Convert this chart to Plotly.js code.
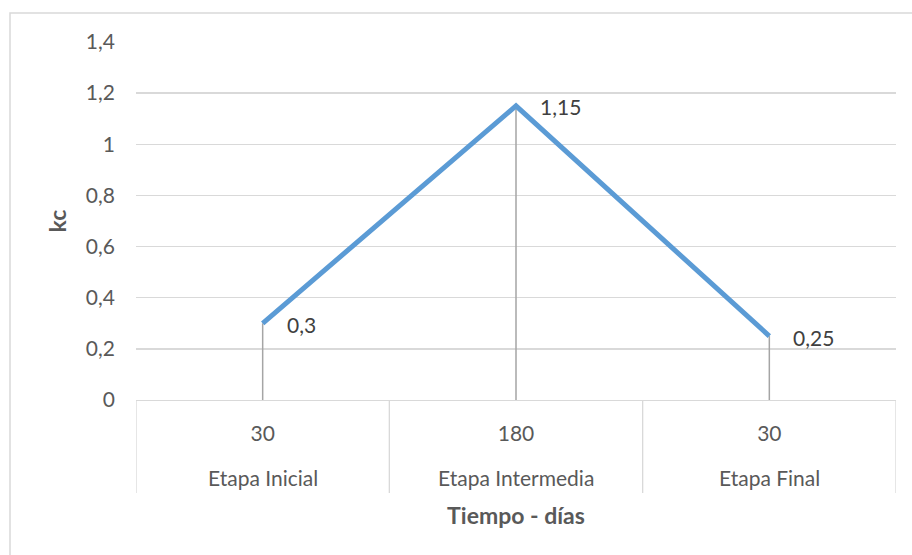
<!DOCTYPE html>
<html>
<head>
<meta charset="utf-8">
<script src="https://cdn.plot.ly/plotly-3.0.1.min.js"></script>
<style>html,body{margin:0;padding:0;background:#fff;}#chart{width:912px;height:555px;}</style>
</head>
<body>
<div id="chart"></div>
<script>
// Data
const stages = ["Etapa Inicial", "Etapa Intermedia", "Etapa Final"];
const days = ["30", "180", "30"];
const kc = [0.3, 1.15, 0.25];
const yTicks = [0, 0.2, 0.4, 0.6, 0.8, 1, 1.2, 1.4];
const yTickText = ["0", "0,2", "0,4", "0,6", "0,8", "1", "1,2", "1,4"];

const fmt = v => String(v).replace('.', ',');
const xIdx = stages.map((_, i) => i);
const FONT = 'Lato, "Open Sans", sans-serif';
const TXT = '#595959';

// Drop lines from each point to zero
const dropX = [], dropY = [];
kc.forEach((v, i) => { dropX.push(xIdx[i], xIdx[i], null); dropY.push(0, v, null); });

const traces = [
  {type: 'scatter', mode: 'lines', x: dropX, y: dropY,
   line: {color: '#a5a5a5', width: 1.5}, hoverinfo: 'skip', showlegend: false},
  {type: 'scatter', mode: 'lines', x: xIdx, y: kc,
   line: {color: '#5b9bd5', width: 5}, showlegend: false}
];

const pl = 136, pr = 896, pt = 42, pb = 400, W = 912, H = 555;
const pw = pr - pl, ph = pb - pt;

const annotations = [];
// data labels
kc.forEach((v, i) => annotations.push({
  x: xIdx[i], y: v, xref: 'x', yref: 'y', text: fmt(v), showarrow: false,
  xanchor: 'left', yanchor: 'middle', xshift: 22, yshift: -1,
  font: {family: FONT, size: 21, color: '#404040'}
}));
// second-level category labels
stages.forEach((s, i) => annotations.push({
  x: xIdx[i], y: 0, xref: 'x', yref: 'paper', text: s, showarrow: false,
  xanchor: 'center', yanchor: 'middle', yshift: -77,
  font: {family: FONT, size: 21, color: TXT}
}));

const shapes = [
  {type: 'rect', xref: 'paper', yref: 'paper',
   x0: (10 - pl) / pw, x1: (930 - pl) / pw, y0: (pb - 570) / ph, y1: (pb - 13) / ph,
   line: {color: '#d9d9d9', width: 1.5}, fillcolor: 'rgba(0,0,0,0)', layer: 'below'}
];
// category dividers below the axis
for (let k = 0; k <= stages.length; k++) {
  shapes.push({type: 'line', xref: 'x', yref: 'paper', x0: k - 0.5, x1: k - 0.5,
    y0: 0, y1: -93 / ph, line: {color: '#d9d9d9', width: 1.3}});
}

const layout = {
  width: W, height: H,
  margin: {l: pl, r: W - pr, t: pt, b: H - pb},
  paper_bgcolor: '#ffffff', plot_bgcolor: '#ffffff',
  font: {family: FONT, size: 21, color: TXT},
  showlegend: false,
  xaxis: {
    type: 'linear', range: [-0.5, stages.length - 0.5],
    tickvals: xIdx, ticktext: days,
    showgrid: false, zeroline: false,
    showline: true, linecolor: '#d9d9d9', linewidth: 1.3,
    ticks: '', ticklabelstandoff: 14,
    tickfont: {family: FONT, size: 21, color: TXT},
    title: {text: '<b>Tiempo - días</b>', font: {family: FONT, size: 23, color: TXT}, standoff: 64}
  },
  yaxis: {
    range: [0, 1.4],
    tickvals: yTicks, ticktext: yTickText,
    showgrid: true, gridcolor: '#d9d9d9', gridwidth: 1.3,
    zeroline: false, showline: false, ticks: '',
    ticklabelstandoff: 20,
    tickfont: {family: FONT, size: 21, color: TXT},
    title: {text: '<b>kc</b>', font: {family: FONT, size: 23, color: TXT}, standoff: 12}
  },
  annotations: annotations,
  shapes: shapes
};

Plotly.newPlot('chart', traces, layout, {displayModeBar: false, staticPlot: true});
</script>
</body>
</html>
